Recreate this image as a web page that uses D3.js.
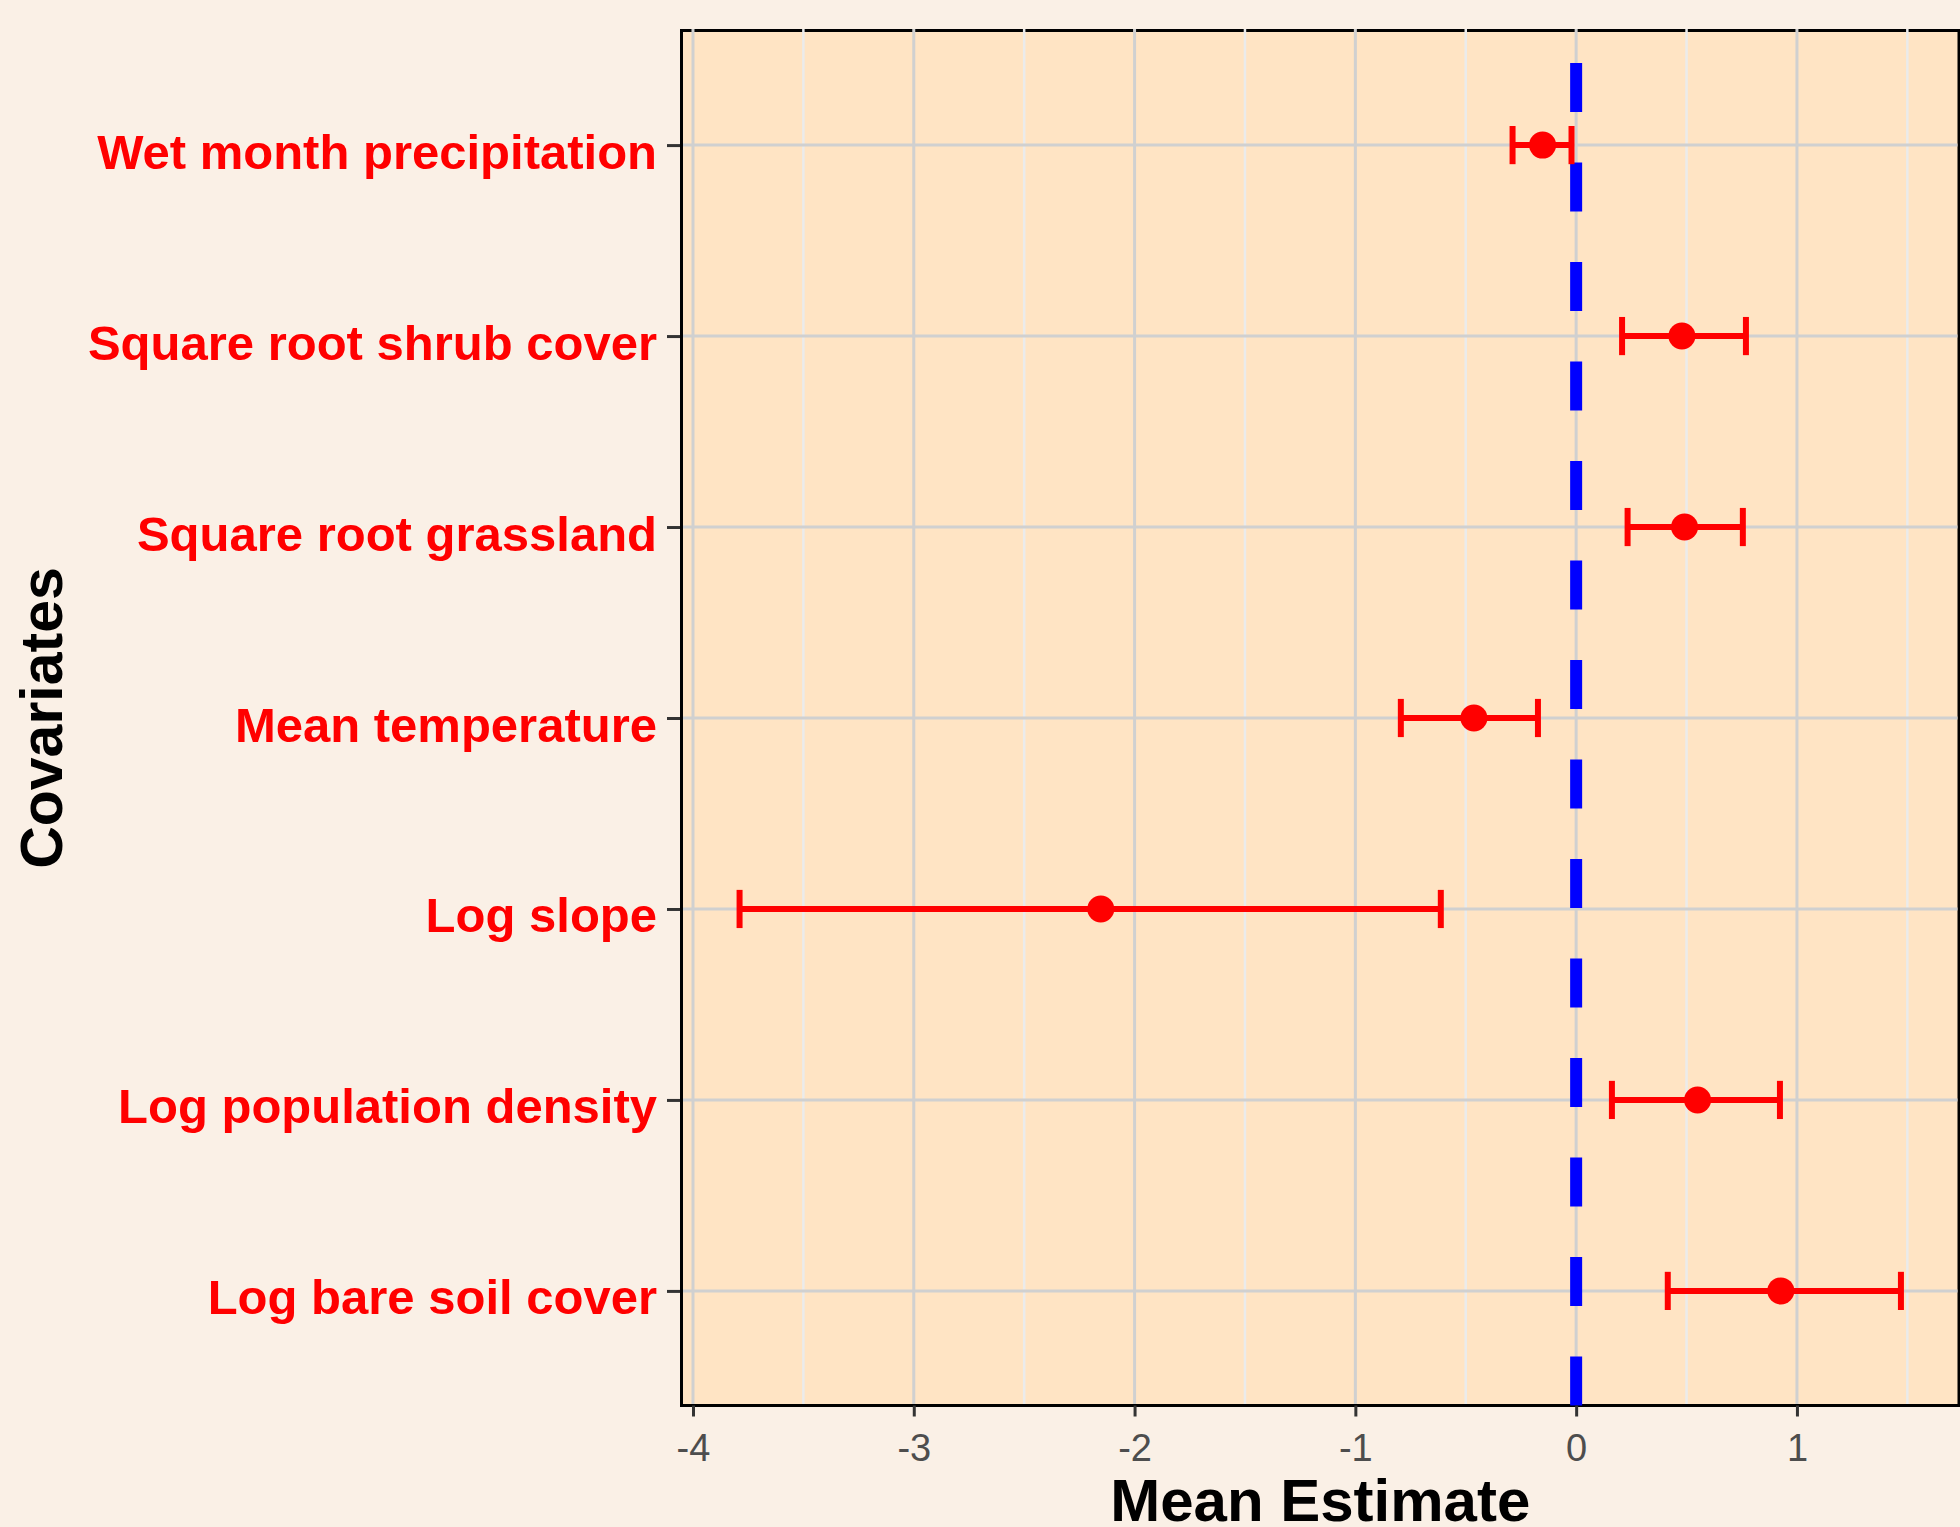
<!DOCTYPE html>
<html>
<head>
<meta charset="utf-8">
<script src="https://cdn.jsdelivr.net/npm/d3@7"></script>
<style>
  html, body { margin: 0; padding: 0; background: #FAF0E6; }
  svg { display: block; }
</style>
</head>
<body>
<svg id="chart" width="1960" height="1527"></svg>
<script>
// ---- data (top to bottom) ----
const covariates = [
  "Wet month precipitation",
  "Square root shrub cover",
  "Square root grassland",
  "Mean temperature",
  "Log slope",
  "Log population density",
  "Log bare soil cover"
];
const meanEstimate = [-0.152, 0.479, 0.491, -0.463, -2.153, 0.550, 0.927];
const lowerBound   = [-0.288, 0.208, 0.233, -0.794, -3.789, 0.162, 0.415];
const upperBound   = [-0.021, 0.769, 0.755, -0.173, -0.613, 0.923, 1.471];
const xTicks = [-4, -3, -2, -1, 0, 1];
const xMinorTicks = [-3.5, -2.5, -1.5, -0.5, 0.5, 1.5];
const refLine = 0;

const rows = covariates.map((c, i) => ({
  name: c, est: meanEstimate[i], lo: lowerBound[i], hi: upperBound[i]
}));

const W = 1960, H = 1527;
const panel = { x0: 681.5, x1: 1959, y0: 30.5, y1: 1405.5 };

const svg = d3.select("#chart");
svg.append("rect").attr("width", W).attr("height", H).attr("fill", "#FAF0E6");

// ggplot-like 5% expansion
const lo = d3.min(lowerBound), hi = d3.max(upperBound);
const pad = (hi - lo) * 0.05;
const x = d3.scaleLinear().domain([lo - pad, hi + pad]).range([panel.x0, panel.x1]);
const y = d3.scalePoint().domain(covariates).range([panel.y0, panel.y1]).padding(0.6);

// panel background + border
svg.append("rect")
  .attr("x", panel.x0).attr("y", panel.y0)
  .attr("width", panel.x1 - panel.x0).attr("height", panel.y1 - panel.y0)
  .attr("fill", "#FFE4C4").attr("stroke", "#000").attr("stroke-width", 3);

const grid = svg.append("g");
grid.selectAll("line.minor").data(xMinorTicks.filter(v => x(v) > panel.x0 && x(v) < panel.x1))
  .join("line").attr("class", "minor")
  .attr("x1", d => x(d)).attr("x2", d => x(d))
  .attr("y1", panel.y0 - 1.5).attr("y2", panel.y1 - 1.5)
  .attr("stroke", "#EBEBEB").attr("stroke-width", 2.5);
grid.selectAll("line.majorx").data(xTicks)
  .join("line").attr("class", "majorx")
  .attr("x1", d => x(d)).attr("x2", d => x(d))
  .attr("y1", panel.y0 - 1.5).attr("y2", panel.y1 - 1.5)
  .attr("stroke", "#D0D0D0").attr("stroke-width", 3);
grid.selectAll("line.majory").data(covariates)
  .join("line").attr("class", "majory")
  .attr("x1", panel.x0 + 1.5).attr("x2", panel.x1 - 1.5)
  .attr("y1", d => y(d)).attr("y2", d => y(d))
  .attr("stroke", "#D0D0D0").attr("stroke-width", 3);

// reference dashed line (drawn from bottom to top)
svg.append("line")
  .attr("x1", x(refLine)).attr("x2", x(refLine))
  .attr("y1", panel.y1).attr("y2", panel.y0 + 1.5)
  .attr("stroke", "#0000FF").attr("stroke-width", 12)
  .attr("stroke-dasharray", "49,50.5");

// error bars
const capHalf = y.step() * 0.1;
const eb = svg.append("g").attr("stroke", "#FF0000").attr("stroke-width", 6);
eb.selectAll("line.h").data(rows).join("line").attr("class", "h")
  .attr("x1", d => x(d.lo)).attr("x2", d => x(d.hi))
  .attr("y1", d => y(d.name)).attr("y2", d => y(d.name));
eb.selectAll("line.cl").data(rows).join("line").attr("class", "cl")
  .attr("x1", d => x(d.lo)).attr("x2", d => x(d.lo))
  .attr("y1", d => y(d.name) - capHalf).attr("y2", d => y(d.name) + capHalf);
eb.selectAll("line.ch").data(rows).join("line").attr("class", "ch")
  .attr("x1", d => x(d.hi)).attr("x2", d => x(d.hi))
  .attr("y1", d => y(d.name) - capHalf).attr("y2", d => y(d.name) + capHalf);

svg.append("g").selectAll("circle").data(rows).join("circle")
  .attr("cx", d => x(d.est)).attr("cy", d => y(d.name)).attr("r", 13.5)
  .attr("fill", "#FF0000");

// x axis
const xAxis = svg.append("g")
  .attr("transform", `translate(0,${panel.y1})`)
  .call(d3.axisBottom(x).tickValues(xTicks).tickSize(11).tickFormat(d3.format("d")));
xAxis.select(".domain").remove();
xAxis.selectAll(".tick line").attr("stroke", "#333333").attr("stroke-width", 3);
xAxis.selectAll(".tick text")
  .attr("y", 55.5).attr("dy", null)
  .attr("font-family", "'Liberation Sans', Arial, sans-serif")
  .attr("font-size", 38).attr("fill", "#4D4D4D")
  .text(d => d < 0 ? "-" + Math.abs(d) : d);

// y axis
const yAxis = svg.append("g")
  .attr("transform", `translate(${panel.x0},0)`)
  .call(d3.axisLeft(y).tickSize(13).tickPadding(11));
yAxis.select(".domain").remove();
yAxis.selectAll(".tick line").attr("stroke", "#333333").attr("stroke-width", 3)
  .attr("x2", -13 - 1.5).attr("x1", -1.5);
yAxis.selectAll(".tick text")
  .attr("dy", 23)
  .attr("x", -24.5)
  .attr("font-family", "'Liberation Sans', Arial, sans-serif")
  .attr("font-weight", "bold")
  .attr("font-size", 49).attr("fill", "#FF0000");

// axis titles
svg.append("text")
  .attr("x", (panel.x0 + panel.x1) / 2).attr("y", 1521)
  .attr("text-anchor", "middle")
  .attr("font-family", "'Liberation Sans', Arial, sans-serif")
  .attr("font-weight", "bold").attr("font-size", 60).attr("fill", "#000")
  .text("Mean Estimate");

svg.append("text")
  .attr("transform", `translate(62,${(panel.y0 + panel.y1) / 2}) rotate(-90)`)
  .attr("text-anchor", "middle")
  .attr("font-family", "'Liberation Sans', Arial, sans-serif")
  .attr("font-weight", "bold").attr("font-size", 59).attr("fill", "#000")
  .text("Covariates");
</script>
</body>
</html>
